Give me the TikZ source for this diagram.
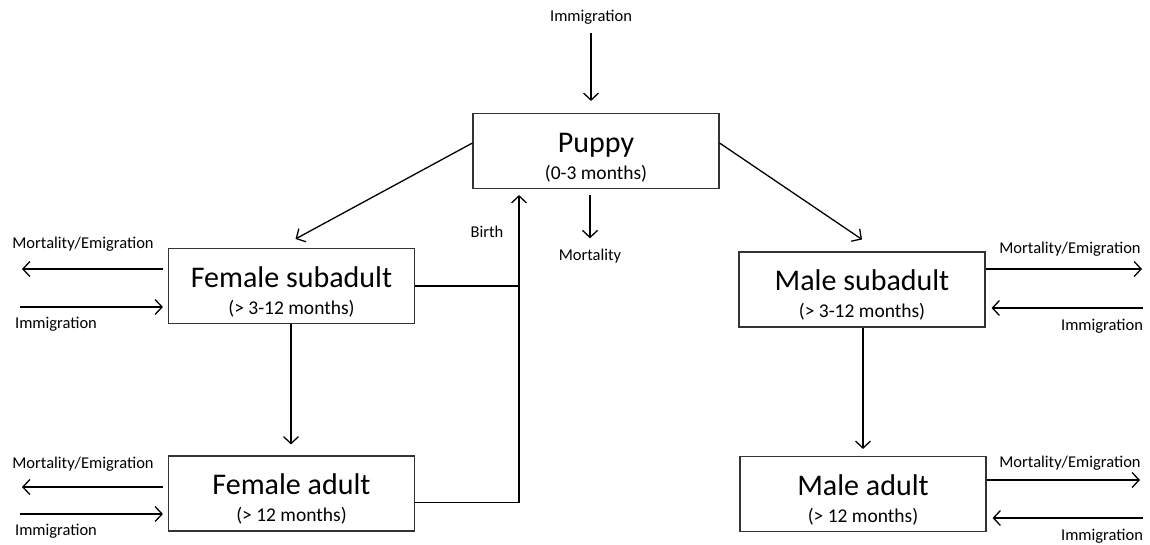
\documentclass[tikz,border=0pt]{standalone}
\usepackage{fontspec}
\setmainfont{Carlito}
\usetikzlibrary{arrows.meta}

\newcommand{\stagetext}[2]{{\fontsize{30}{27}\selectfont\rule{0pt}{32pt}#1}\\{\fontsize{19.5}{27}\selectfont #2}}

\begin{document}
\begin{tikzpicture}[x=1pt, y=-1pt, line width=1.3pt,
		box_style/.style={rectangle,draw=black!80,line width=1.1pt,minimum width=246pt,minimum height=75pt,align=center,inner sep=0pt,font=\fontsize{19.5}{27}\selectfont},
		label_style/.style={inner sep=0pt,font=\fontsize{16.5}{19}\selectfont},
		edge_style/.style={draw=black,-{Straight Barb[length=7pt,width=15pt]}},
		line_style/.style={draw=black}]

		\useasboundingbox (0,0) rectangle (1150,544);

		\node[box_style] (pup) at (596,151)  {\stagetext{Puppy}{(0-3 months)}};
		\node[box_style] (fsub) at (291.5,286)  {\stagetext{Female subadult}{(> 3-12 months)}};
		\node[box_style] (fad) at (291.5,493.5)  {\stagetext{Female adult}{(> 12 months)}};
		\node[box_style] (msub) at (862,289.5)  {\stagetext{Male subadult}{(> 3-12 months)}};
		\node[box_style] (mad) at (863,494)  {\stagetext{Male adult}{(> 12 months)}};

		\node[label_style] (imm0) at (591,17)  {Immigration};
		\node[label_style] (mor0) at (590,256)  {Mortality};
		\node[label_style] (birth) at (487,232)  {Birth};
		\node[label_style] (me1) at (83,244)  {Mortality/Emigration};
		\node[label_style] (im1) at (56,324)  {Immigration};
		\node[label_style] (me2) at (83,464)  {Mortality/Emigration};
		\node[label_style] (im2) at (56,531)  {Immigration};
		\node[label_style] (me3) at (1070,249)  {Mortality/Emigration};
		\node[label_style] (im3) at (1102,326)  {Immigration};
		\node[label_style] (me4) at (1070,463)  {Mortality/Emigration};
		\node[label_style] (im4) at (1102,536)  {Immigration};

		\coordinate (me1_end) at (22,269);
		\coordinate (im1_start) at (20,307);
		\coordinate (me2_end) at (22,487);
		\coordinate (im2_start) at (20,514);
		\coordinate (me3_end) at (1142,269);
		\coordinate (im3_start) at (1143,308);
		\coordinate (me4_end) at (1140,480);
		\coordinate (im4_start) at (1143,518);
		\coordinate (btip) at ([xshift=-77pt,yshift=-6pt]pup.south);

		\draw[edge_style]  ([yshift=-8pt]imm0.south) -- ([xshift=-5pt,yshift=12pt]pup.north);
		\draw[edge_style]  ([xshift=-6pt,yshift=-6pt]pup.south) -- ([yshift=10pt]mor0.north);
		\draw[edge_style]  ([yshift=8pt]pup.west) -- ([xshift=4pt,yshift=9pt]fsub.north);
		\draw[edge_style]  ([yshift=8pt]pup.east) -- ([yshift=12pt]msub.north);
		\draw[edge_style]  ([xshift=-0.5pt]fsub.south) -- ([xshift=-0.5pt,yshift=11pt]fad.north);
		\draw[edge_style]  ([xshift=1pt]msub.south) -- ([yshift=7pt]mad.north);
		\draw[edge_style]  ([yshift=-9pt]fad.east) -| (btip);
		\draw[line_style]  (fsub.east) -- (fsub.east -| btip);

		\draw[edge_style]  ([xshift=-5pt,yshift=17pt]fsub.west) -- (me1_end);
		\draw[edge_style]  (im1_start) -- ([xshift=-5pt,yshift=-21pt]fsub.west);
		\draw[edge_style]  ([xshift=-5pt,yshift=6.5pt]fad.west) -- (me2_end);
		\draw[edge_style]  (im2_start) -- ([xshift=-5pt,yshift=-20.5pt]fad.west);
		\draw[edge_style]  ([yshift=20.5pt]msub.east) -- (me3_end);
		\draw[edge_style]  (im3_start) -- ([xshift=6pt,yshift=-18.5pt]msub.east);
		\draw[edge_style]  ([yshift=14pt]mad.east) -- (me4_end);
		\draw[edge_style]  (im4_start) -- ([xshift=6pt,yshift=-24pt]mad.east);
\end{tikzpicture}
\end{document}
